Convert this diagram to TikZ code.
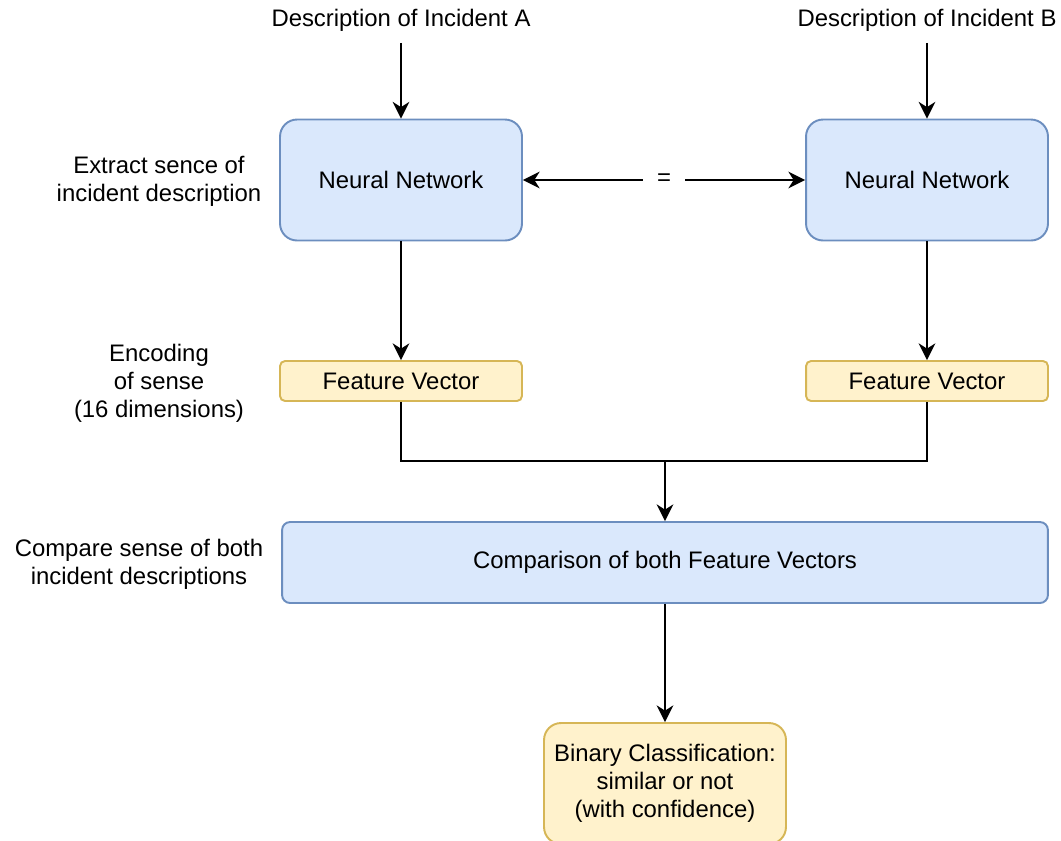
\documentclass[tikz,border=0pt]{standalone}
\usepackage{fontspec}
\setmainfont{Liberation Sans}
\usetikzlibrary{arrows.meta}
\definecolor{blueFill}{HTML}{DAE8FC}
\definecolor{blueLine}{HTML}{6C8EBF}
\definecolor{yellowFill}{HTML}{FFF2CC}
\definecolor{yellowLine}{HTML}{D6B656}
\tikzset{
    netbox/.style={draw=blueLine, fill=blueFill, line width=1.1pt, rounded corners=0.34cm, minimum width=4.84cm, minimum height=2.42cm, align=center},
    vecbox/.style={draw=yellowLine, fill=yellowFill, line width=1.1pt, rounded corners=0.1cm, minimum width=4.84cm, minimum height=0.8cm},
    tip/.tip={Stealth[length=9.5pt,width=9.5pt,inset=3pt]},
    flow/.style={line width=1.1pt, -tip},
    plain/.style={line width=1.1pt},
    note/.style={align=center}
}

\begin{document}
\begin{tikzpicture}[x=0.02cm, y=-0.02cm, font=\fontsize{13.6pt}{15.9pt}\selectfont]
        \useasboundingbox (0,0) rectangle (1061,840);
        % inputs
        \node (descA) at (401,20) {Description of Incident A};
        \node (descB) at (927,20) {Description of Incident B};
        % networks
        \node [netbox] (netA) at (401,180) {Neural Network};
        \node [netbox] (netB) at (927,180) {Neural Network};
        % feature vectors
        \node [vecbox] (vecA) at (401,381) {Feature Vector};
        \node [vecbox] (vecB) at (927,381) {Feature Vector};
        % comparison and result
        \node [netbox, rounded corners=0.16cm, minimum width=15.32cm, minimum height=1.62cm] (cmp) at (665,562.5) {Comparison of both Feature Vectors};
        \node [netbox, draw=yellowLine, fill=yellowFill, minimum height=2.42cm] (cls) at (665,783.5) {Binary Classification:\\similar or not\\(with confidence)};
        % side notes
        \node [note] (noteA) at (159,181) {Extract sence of\\incident description};
        \node [note] (noteB) at (159,383) {Encoding\\of sense\\(16 dimensions)};
        \node [note] (noteC) at (139,564) {Compare sense of both\\incident descriptions};
        % connectors
        \coordinate (join) at (665,461);
        \draw [flow] ([yshift=-13pt]descA.center) -- (netA.north);
        \draw [flow] ([yshift=-13pt]descB.center) -- (netB.north);
        \draw [flow, tip-tip] (netA.east) -- node [fill=white, inner xsep=8pt] {=} (netB.west);
        \draw [flow] (netA.south) -- (vecA.north);
        \draw [flow] (netB.south) -- (vecB.north);
        \draw [plain] (vecA.south) |- (join) -| (vecB.south);
        \draw [flow] (join) -- (cmp.north);
        \draw [flow] (cmp.south) -- (cls.north);
    \end{tikzpicture}
\end{document}
